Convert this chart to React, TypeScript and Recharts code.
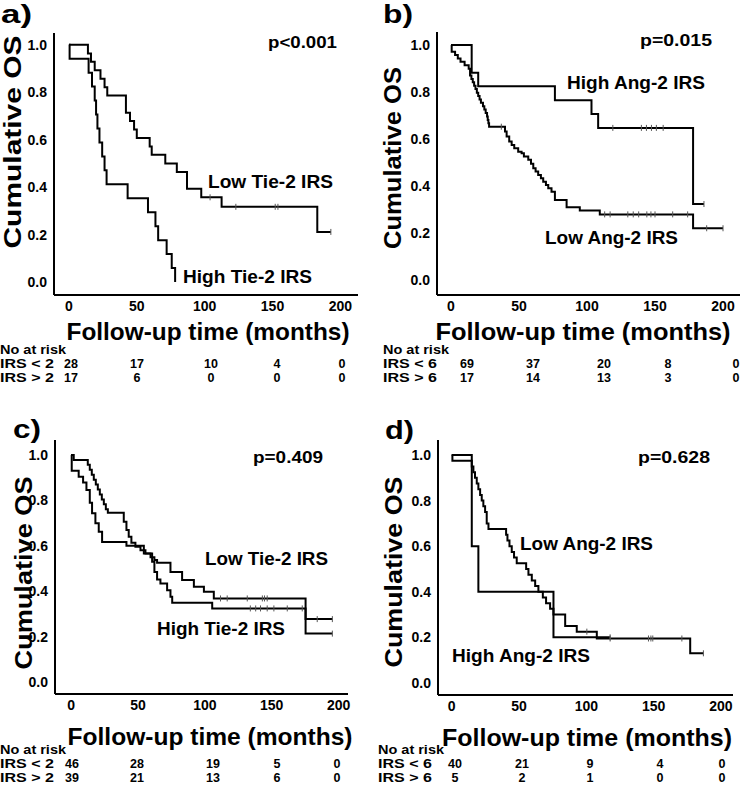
import React from 'react';
import { LineChart, Line, XAxis, YAxis } from 'recharts';

const FONT = '"Liberation Sans", Arial, Helvetica, sans-serif';

const months = [0, 50, 100, 150, 200];
const osTicks = [0, 0.2, 0.4, 0.6, 0.8, 1.0];

// a) Tie-2
const aLowT = [0, 14, 16.25, 19, 23.25, 26.25, 28.25, 42, 45, 48, 50, 59.5, 61, 71, 79.5, 87, 97.5, 112.5, 183];
const aLowS = [1, 0.964, 0.929, 0.893, 0.857, 0.821, 0.786, 0.714, 0.679, 0.643, 0.607, 0.571, 0.536, 0.5, 0.464, 0.393, 0.357, 0.317, 0.211];
const aLowCens = [104, 123, 152, 154, 193];
const aHighT = [0, 0.5, 14.5, 17, 19, 20, 21, 22.5, 24.5, 26.25, 27.75, 43.25, 58.25, 63.75, 65.75, 72, 75.75, 78.25];
const aHighS = [1, 0.941, 0.882, 0.824, 0.765, 0.706, 0.647, 0.588, 0.529, 0.471, 0.412, 0.353, 0.294, 0.235, 0.176, 0.118, 0.059, 0];
const aHighCens: number[] = [];
const aRiskLow = [28, 17, 10, 4, 0];
const aRiskHigh = [17, 6, 0, 0, 0];

// b) Ang-2
const bHighT = [0, 15.2, 20, 76.4, 103.3, 108.2, 178];
const bHighS = [1, 0.882, 0.824, 0.765, 0.706, 0.647, 0.323];
const bHighCens = [119, 140, 143.7, 147.4, 151, 156, 186];
const bLowT = [0, 0.5, 3, 5, 7, 10, 13, 14, 15, 16, 17, 18, 19, 20, 21, 22, 23.5, 24.5, 25.5, 26.5, 27, 27.5, 28, 39.7, 40.9, 42.8, 44.6, 46.5, 49.4, 51.9, 53.6, 56.8, 58.8, 60.5, 62.2, 64.1, 66.1, 67.8, 69.8, 71.5, 73.9, 76.4, 85, 94.7, 109.4, 178];
const bLowS = [1, 0.971, 0.957, 0.942, 0.928, 0.913, 0.899, 0.87, 0.855, 0.841, 0.826, 0.812, 0.797, 0.783, 0.768, 0.754, 0.739, 0.725, 0.71, 0.696, 0.681, 0.667, 0.652, 0.632, 0.61, 0.589, 0.574, 0.56, 0.546, 0.539, 0.525, 0.511, 0.494, 0.475, 0.461, 0.447, 0.433, 0.418, 0.404, 0.39, 0.375, 0.34, 0.309, 0.295, 0.279, 0.22];
const bLowCens = [37, 113, 117, 130, 134, 138, 144, 147, 150, 163, 174, 188, 200];
const bRiskLow = [69, 37, 20, 8, 0];
const bRiskHigh = [17, 14, 13, 3, 0];

// c) Tie-2
const cLowT = [0, 2, 12.5, 14, 15.5, 17, 18.5, 20, 21.5, 23, 24.5, 26, 27.5, 39.4, 41.4, 43.1, 45.1, 48.1, 51.9, 55.6, 59.4, 62.3, 64.3, 74.3, 83, 91.8, 99.3, 106.7, 175.3];
const cLowS = [1, 0.978, 0.957, 0.935, 0.913, 0.891, 0.87, 0.848, 0.826, 0.804, 0.783, 0.761, 0.745, 0.706, 0.67, 0.64, 0.613, 0.596, 0.58, 0.566, 0.55, 0.537, 0.525, 0.485, 0.449, 0.42, 0.397, 0.368, 0.277];
const cLowCens = [111.7, 116.7, 131.7, 143, 144.6, 146.6, 184, 195.3];
const cHighT = [0, 0.5, 5.7, 9, 11.5, 14, 15.7, 18.2, 20.7, 23.2, 41.4, 54.4, 60.6, 62.3, 64.3, 66.8, 71.8, 74.3, 75.6, 105.5, 175.3];
const cHighS = [1, 0.931, 0.904, 0.879, 0.846, 0.79, 0.743, 0.699, 0.662, 0.617, 0.6, 0.566, 0.53, 0.485, 0.451, 0.434, 0.404, 0.375, 0.349, 0.324, 0.213];
const cHighCens = [134, 138, 141.6, 146.6, 151.6, 161.6, 172.8, 195.3];
const cRiskLow = [46, 28, 19, 5, 0];
const cRiskHigh = [39, 21, 13, 6, 0];

// d) Ang-2
const dHighT = [0, 14.9, 19.8, 75.6];
const dHighS = [1, 0.6, 0.4, 0.2];
const dHighCens = [117.7];
const dLowT = [0, 0.5, 14.9, 16.1, 17.3, 18.6, 19.8, 21.1, 22.3, 23.5, 24.8, 26, 27.3, 40.4, 41.4, 42.9, 44.6, 46.3, 48.3, 55.3, 57, 59.5, 62, 64.4, 67.7, 70.1, 73.1, 75.6, 84.3, 92.9, 107.8, 177.2];
const dLowS = [1, 0.975, 0.95, 0.925, 0.9, 0.875, 0.85, 0.825, 0.8, 0.775, 0.75, 0.7, 0.675, 0.65, 0.625, 0.6, 0.575, 0.55, 0.525, 0.5, 0.475, 0.45, 0.425, 0.4, 0.375, 0.35, 0.325, 0.3, 0.25, 0.225, 0.195, 0.13];
const dLowCens = [100.4, 117.7, 146.2, 148, 149.4, 171, 187];
const dRiskLow = [40, 21, 9, 4, 0];
const dRiskHigh = [5, 2, 1, 0, 0];

type Pt = { t: number; s: number; c?: boolean };

// step points plus censor ticks
function km(ts: number[], ss: number[], cens: number[]): Pt[] {
  const pts: Pt[] = ts.map((t, i) => ({ t, s: ss[i] }));
  cens.forEach(c => {
    let s = ss[0];
    ts.forEach((t, i) => { if (t <= c) s = ss[i]; });
    pts.push({ t: c, s, c: true });
  });
  return pts.sort((p, q) => p.t - q.t);
}

const Cens = (p: any) => {
  if (!p.payload || !p.payload.c) return <g key={`n${p.index}`} />;
  return <line key={`c${p.index}`} x1={p.cx} x2={p.cx} y1={p.cy - 3} y2={p.cy + 3} stroke="#555" strokeWidth={1} />;
};

const tickStyle = { fill: '#000', fontSize: 14, fontWeight: 700, fontFamily: FONT };

function Panel(props: any) {
  const { left, top, width, height, yW, mTop, mRight, xDom, yDom, series } = props;
  return (
    <div style={{ position: 'absolute', left, top }}>
      <LineChart width={width} height={height} margin={{ top: mTop, right: mRight, left: 0, bottom: 0 }}>
        <XAxis
          type="number"
          dataKey="t"
          domain={xDom}
          ticks={months}
          allowDataOverflow
          interval={0}
          height={25}
          tickLine={false}
          tickSize={0}
          tickMargin={6}
          axisLine={{ stroke: '#000', strokeWidth: 2 }}
          tick={tickStyle}
        />
        <YAxis
          type="number"
          domain={yDom}
          ticks={osTicks}
          allowDataOverflow
          interval={0}
          width={yW}
          tickLine={false}
          tickSize={0}
          tickMargin={7}
          axisLine={{ stroke: '#000', strokeWidth: 2 }}
          tick={tickStyle}
          tickFormatter={(v: number) => v.toFixed(1)}
        />
        {series.map((d: Pt[], i: number) => (
          <Line
            key={i}
            data={d}
            dataKey="s"
            type="stepAfter"
            stroke="#000"
            strokeWidth={2}
            dot={Cens}
            activeDot={false}
            isAnimationActive={false}
          />
        ))}
      </LineChart>
    </div>
  );
}

function T(p: any) {
  const { x, y, size, len, anchor, rot, children } = p;
  return (
    <text
      x={rot ? 0 : x}
      y={rot ? 0 : y}
      transform={rot ? `translate(${x},${y}) rotate(-90)` : undefined}
      fontSize={size}
      fontWeight={700}
      fontFamily={FONT}
      fill="#000"
      textAnchor={anchor || 'start'}
      dominantBaseline="central"
      textLength={len}
      lengthAdjust="spacingAndGlyphs"
    >
      {children}
    </text>
  );
}

function Risk(p: any) {
  const { x, y, lab1, lab2, r1, r2, cols } = p;
  return (
    <g>
      <T x={x} y={y} size={12} len={66}>No at risk</T>
      <T x={x} y={y + 14} size={12} len={54}>{lab1}</T>
      <T x={x} y={y + 28} size={12} len={54}>{lab2}</T>
      {r1.map((v: number, i: number) => <T key={`a${i}`} x={cols[i]} y={y + 14} size={12.5} anchor="middle">{v}</T>)}
      {r2.map((v: number, i: number) => <T key={`b${i}`} x={cols[i]} y={y + 28} size={12.5} anchor="middle">{v}</T>)}
    </g>
  );
}

export default function App() {
  return (
    <div style={{ position: 'absolute', left: 0, top: 0, width: 740, height: 792, background: '#fff', overflow: 'hidden' }}>
      <Panel left={0} top={0} width={370} height={320} yW={54} mTop={33} mRight={12}
        xDom={[-11, 213]} yDom={[-0.055, 1.05]}
        series={[km(aLowT, aLowS, aLowCens), km(aHighT, aHighS, aHighCens)]} />
      <Panel left={370} top={0} width={370} height={320} yW={67} mTop={32} mRight={0}
        xDom={[-10.3, 212.5]} yDom={[-0.064, 1.055]}
        series={[km(bLowT, bLowS, bLowCens), km(bHighT, bHighS, bHighCens)]} />
      <Panel left={0} top={380} width={370} height={339} yW={55} mTop={60} mRight={22}
        xDom={[-12, 207]} yDom={[-0.053, 1.066]}
        series={[km(cLowT, cLowS, cLowCens), km(cHighT, cHighS, cHighCens)]} />
      <Panel left={370} top={380} width={370} height={340} yW={68} mTop={60} mRight={7}
        xDom={[-10.2, 209]} yDom={[-0.053, 1.066]}
        series={[km(dLowT, dLowS, dLowCens), km(dHighT, dHighS, dHighCens)]} />
      <svg width={740} height={792} style={{ position: 'absolute', left: 0, top: 0, pointerEvents: 'none' }}>
        <T x={1} y={14} size={25} len={31}>a)</T>
        <T x={383} y={14} size={25} len={30}>b)</T>
        <T x={13} y={429} size={25} len={28}>c)</T>
        <T x={385} y={430} size={25} len={29}>d)</T>

        <T x={12} y={142} size={24} len={213} anchor="middle" rot>Cumulative OS</T>
        <T x={392} y={158} size={24} len={182} anchor="middle" rot>Cumulative OS</T>
        <T x={23} y={573} size={24} len={193} anchor="middle" rot>Cumulative OS</T>
        <T x={393} y={572} size={24} len={191} anchor="middle" rot>Cumulative OS</T>

        <T x={208} y={331} size={24} len={283} anchor="middle">Follow-up time (months)</T>
        <T x={583} y={331} size={24} len={295} anchor="middle">Follow-up time (months)</T>
        <T x={210} y={736} size={24} len={285} anchor="middle">Follow-up time (months)</T>
        <T x={587} y={737} size={24} len={290} anchor="middle">Follow-up time (months)</T>

        <T x={268} y={42} size={17} len={69}>p&lt;0.001</T>
        <T x={640} y={40} size={17} len={72}>p=0.015</T>
        <T x={253} y={457} size={17} len={70}>p=0.409</T>
        <T x={638} y={457} size={17} len={72}>p=0.628</T>

        <T x={208} y={181} size={19} len={125}>Low Tie-2 IRS</T>
        <T x={183} y={276} size={19} len={129}>High Tie-2 IRS</T>
        <T x={567} y={82} size={19} len={138}>High Ang-2 IRS</T>
        <T x={545} y={237} size={19} len={133}>Low Ang-2 IRS</T>
        <T x={205} y={558} size={19} len={123}>Low Tie-2 IRS</T>
        <T x={157} y={628} size={19} len={128}>High Tie-2 IRS</T>
        <T x={520} y={543} size={19} len={133}>Low Ang-2 IRS</T>
        <T x={452} y={655} size={19} len={138}>High Ang-2 IRS</T>

        <Risk x={0} y={350} lab1="IRS < 2" lab2="IRS > 2" r1={aRiskLow} r2={aRiskHigh} cols={[71, 137, 211, 277, 342]} />
        <Risk x={383} y={350} lab1="IRS < 6" lab2="IRS > 6" r1={bRiskLow} r2={bRiskHigh} cols={[467, 533, 604, 668, 736]} />
        <Risk x={0} y={750} lab1="IRS < 2" lab2="IRS > 2" r1={cRiskLow} r2={cRiskHigh} cols={[72, 137, 213, 277, 337]} />
        <Risk x={378} y={750} lab1="IRS < 6" lab2="IRS > 6" r1={dRiskLow} r2={dRiskHigh} cols={[455, 522, 590, 660, 722]} />
      </svg>
    </div>
  );
}
